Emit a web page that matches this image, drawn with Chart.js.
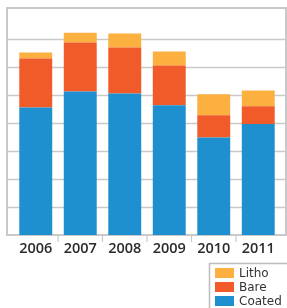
<!DOCTYPE html>
<html>
<head>
<meta charset="utf-8">
<script src="https://cdn.jsdelivr.net/npm/chart.js@4"></script>
<style>
  html, body { margin: 0; padding: 0; background: #fff; }
  #wrap { width: 287px; height: 308px; position: relative; }
</style>
</head>
<body>
<div id="wrap"><canvas id="graph"></canvas></div>
<script>
// chart values
const years = ["2006", "2007", "2008", "2009", "2010", "2011"];
const coated = [4.55, 5.12, 5.05, 4.63, 3.48, 3.96];
const bare = [1.75, 1.75, 1.64, 1.42, 0.79, 0.63];
const litho = [0.21, 0.35, 0.50, 0.50, 0.75, 0.57];
const gridValues = [1, 2, 3, 4, 5, 6, 7];
const legendNames = ["Litho", "Bare", "Coated"];

const colors = { Coated: "#1e90d0", Bare: "#f15a29", Litho: "#fbb040" };
const lineGrey = "#c9c9c9";

// frame, grid lines and small tick marks between the years
const framePlugin = {
  id: "frame",
  beforeDatasetsDraw(chart) {
    const ctx = chart.ctx;
    const y = chart.scales.y;
    const x = chart.scales.x;
    const area = chart.chartArea;
    const left = 7, right = 286;
    ctx.save();
    ctx.strokeStyle = lineGrey;
    ctx.lineWidth = 1.5;
    gridValues.forEach(v => {
      let py = Math.round(y.getPixelForValue(v)) + 0.5;
      ctx.beginPath();
      ctx.moveTo(left, py);
      ctx.lineTo(right, py);
      ctx.stroke();
    });
    ctx.lineWidth = 2;
    ctx.strokeRect(left, area.top, right - left, area.bottom - area.top);
    ctx.lineWidth = 1.2;
    for (let i = 1; i < years.length; i++) {
      let px = (x.getPixelForValue(i - 1) + x.getPixelForValue(i)) / 2;
      ctx.beginPath();
      ctx.moveTo(px, area.bottom);
      ctx.lineTo(px, area.bottom + 7);
      ctx.stroke();
    }
    ctx.restore();
  },
  afterDraw(chart) {
    // legend box in the bottom right corner
    const ctx = chart.ctx;
    ctx.save();
    ctx.strokeStyle = "#bdbdbd";
    ctx.lineWidth = 1.5;
    ctx.strokeRect(209.5, 263.5, 90, 60);
    ctx.font = "12px 'DejaVu Sans'";
    ctx.textBaseline = "middle";
    legendNames.forEach((name, i) => {
      let top = 268 + i * 14;
      ctx.fillStyle = colors[name];
      ctx.fillRect(215, top, 19, 10);
      ctx.fillStyle = "#333";
      ctx.fillText(name, 239, top + 5.5);
    });
    ctx.restore();
  }
};

new Chart(document.getElementById("graph"), {
  type: "bar",
  data: {
    labels: years,
    datasets: [
      { label: "Coated", data: coated, backgroundColor: colors.Coated },
      { label: "Bare", data: bare, backgroundColor: colors.Bare },
      { label: "Litho", data: litho, backgroundColor: colors.Litho },
    ],
  },
  options: {
    responsive: true,
    maintainAspectRatio: false,
    animation: false,
    layout: { padding: { left: 13.5, right: 6.5, top: 8, bottom: 0 } },
    datasets: { bar: { categoryPercentage: 1, barPercentage: 0.74 } },
    plugins: { legend: { display: false }, tooltip: { enabled: false } },
    scales: {
      x: {
        stacked: true,
        border: { display: false },
        grid: { display: false, drawTicks: false },
        ticks: {
          padding: 5,
          color: "#2b2b2b",
          font: { family: "'Open Sans'", size: 14.5, weight: 600 },
        },
        afterFit(scale) { scale.height = 73; },
      },
      y: {
        stacked: true,
        display: false,
        min: 0,
        max: 8.1,
      },
    },
  },
  plugins: [framePlugin],
});
</script>
</body>
</html>
